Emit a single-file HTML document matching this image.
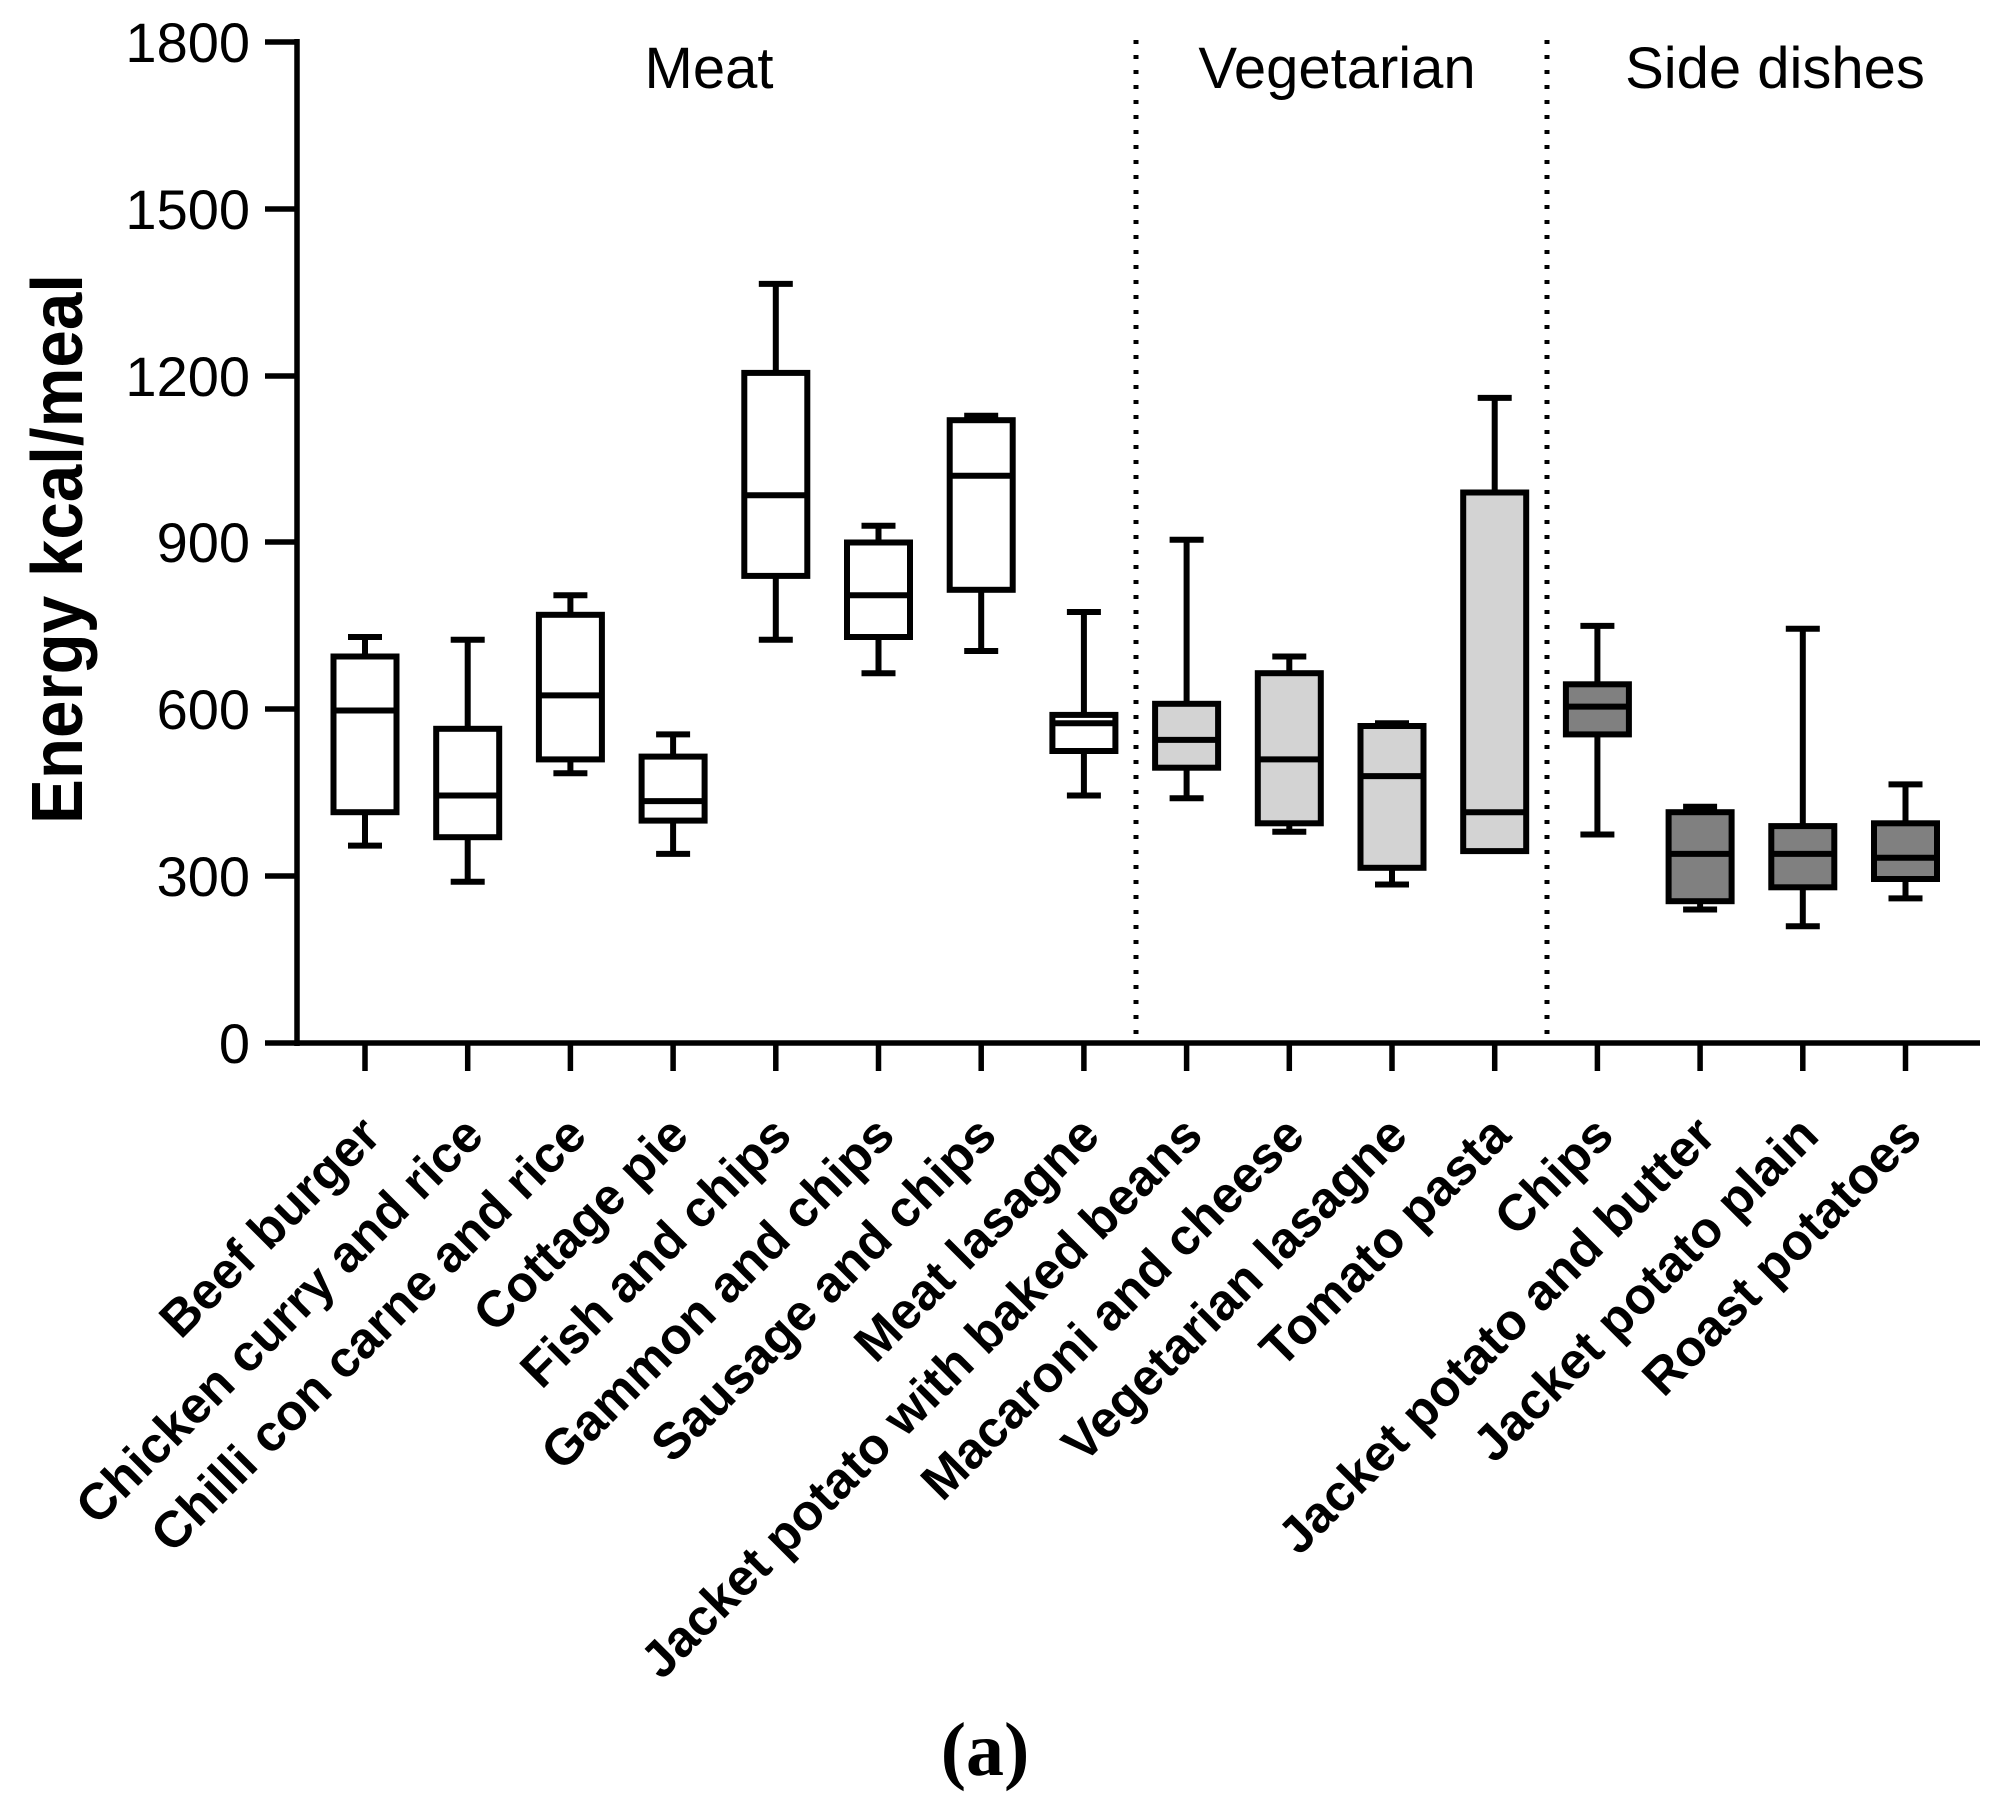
<!DOCTYPE html>
<html><head><meta charset="utf-8"><style>
html,body{margin:0;padding:0;background:#fff;}
svg{display:block;}
text{font-family:"Liberation Sans",Arial,sans-serif;fill:#000;}
</style></head><body>
<svg width="2004" height="1815" viewBox="0 0 2004 1815" xmlns="http://www.w3.org/2000/svg">
<g stroke="#000" stroke-width="6" fill="none">
<line x1="365" y1="637" x2="365" y2="845.6"/><line x1="348" y1="637" x2="382" y2="637"/><line x1="348" y1="845.6" x2="382" y2="845.6"/>
<rect x="333.5" y="656.5" width="63" height="155.7" fill="#fff"/><line x1="333.5" y1="710.5" x2="396.5" y2="710.5"/>
<line x1="467.7" y1="639.8" x2="467.7" y2="881.7"/><line x1="450.7" y1="639.8" x2="484.7" y2="639.8"/><line x1="450.7" y1="881.7" x2="484.7" y2="881.7"/>
<rect x="436.2" y="728.8" width="63" height="108.4" fill="#fff"/><line x1="436.2" y1="795.5" x2="499.2" y2="795.5"/>
<line x1="570.4" y1="595.3" x2="570.4" y2="773.3"/><line x1="553.4" y1="595.3" x2="587.4" y2="595.3"/><line x1="553.4" y1="773.3" x2="587.4" y2="773.3"/>
<rect x="538.9" y="614.8" width="63" height="144.6" fill="#fff"/><line x1="538.9" y1="695.4" x2="601.9" y2="695.4"/>
<line x1="673.1" y1="734.4" x2="673.1" y2="853.9"/><line x1="656.1" y1="734.4" x2="690.1" y2="734.4"/><line x1="656.1" y1="853.9" x2="690.1" y2="853.9"/>
<rect x="641.6" y="756.6" width="63" height="64" fill="#fff"/><line x1="641.6" y1="801.1" x2="704.6" y2="801.1"/>
<line x1="775.8" y1="283.9" x2="775.8" y2="639.8"/><line x1="758.8" y1="283.9" x2="792.8" y2="283.9"/><line x1="758.8" y1="639.8" x2="792.8" y2="639.8"/>
<rect x="744.3" y="372.9" width="63" height="203" fill="#fff"/><line x1="744.3" y1="495.2" x2="807.3" y2="495.2"/>
<line x1="878.5" y1="525.8" x2="878.5" y2="673.2"/><line x1="861.5" y1="525.8" x2="895.5" y2="525.8"/><line x1="861.5" y1="673.2" x2="895.5" y2="673.2"/>
<rect x="847" y="542.5" width="63" height="94.5" fill="#fff"/><line x1="847" y1="595.3" x2="910" y2="595.3"/>
<line x1="981.2" y1="415.7" x2="981.2" y2="651"/><line x1="964.2" y1="415.7" x2="998.2" y2="415.7"/><line x1="964.2" y1="651" x2="998.2" y2="651"/>
<rect x="949.7" y="420.2" width="63" height="169.6" fill="#fff"/><line x1="949.7" y1="475.8" x2="1012.7" y2="475.8"/>
<line x1="1083.9" y1="612" x2="1083.9" y2="795.5"/><line x1="1066.9" y1="612" x2="1100.9" y2="612"/><line x1="1066.9" y1="795.5" x2="1100.9" y2="795.5"/>
<rect x="1052.4" y="714.9" width="63" height="36.1" fill="#fff"/><line x1="1052.4" y1="723.2" x2="1115.4" y2="723.2"/>
<line x1="1186.6" y1="539.7" x2="1186.6" y2="798.3"/><line x1="1169.6" y1="539.7" x2="1203.6" y2="539.7"/><line x1="1169.6" y1="798.3" x2="1203.6" y2="798.3"/>
<rect x="1155.1" y="703.8" width="63" height="63.9" fill="#d3d3d3"/><line x1="1155.1" y1="739.9" x2="1218.1" y2="739.9"/>
<line x1="1289.3" y1="656.5" x2="1289.3" y2="831.7"/><line x1="1272.3" y1="656.5" x2="1306.3" y2="656.5"/><line x1="1272.3" y1="831.7" x2="1306.3" y2="831.7"/>
<rect x="1257.8" y="673.2" width="63" height="150.1" fill="#d3d3d3"/><line x1="1257.8" y1="759.4" x2="1320.8" y2="759.4"/>
<line x1="1392" y1="723.2" x2="1392" y2="884.5"/><line x1="1375" y1="723.2" x2="1409" y2="723.2"/><line x1="1375" y1="884.5" x2="1409" y2="884.5"/>
<rect x="1360.5" y="726" width="63" height="141.8" fill="#d3d3d3"/><line x1="1360.5" y1="776.1" x2="1423.5" y2="776.1"/>
<line x1="1494.7" y1="397.9" x2="1494.7" y2="851.1"/><line x1="1477.7" y1="397.9" x2="1511.7" y2="397.9"/>
<rect x="1463.2" y="492.5" width="63" height="358.6" fill="#d3d3d3"/><line x1="1463.2" y1="812.2" x2="1526.2" y2="812.2"/>
<line x1="1597.4" y1="625.9" x2="1597.4" y2="834.5"/><line x1="1580.4" y1="625.9" x2="1614.4" y2="625.9"/><line x1="1580.4" y1="834.5" x2="1614.4" y2="834.5"/>
<rect x="1565.9" y="684.3" width="63" height="50.1" fill="#808080"/><line x1="1565.9" y1="706.6" x2="1628.9" y2="706.6"/>
<line x1="1700.1" y1="806.7" x2="1700.1" y2="909.5"/><line x1="1683.1" y1="806.7" x2="1717.1" y2="806.7"/><line x1="1683.1" y1="909.5" x2="1717.1" y2="909.5"/>
<rect x="1668.6" y="812.2" width="63" height="89" fill="#808080"/><line x1="1668.6" y1="853.9" x2="1731.6" y2="853.9"/>
<line x1="1802.8" y1="628.7" x2="1802.8" y2="926.2"/><line x1="1785.8" y1="628.7" x2="1819.8" y2="628.7"/><line x1="1785.8" y1="926.2" x2="1819.8" y2="926.2"/>
<rect x="1771.3" y="826.1" width="63" height="61.2" fill="#808080"/><line x1="1771.3" y1="853.9" x2="1834.3" y2="853.9"/>
<line x1="1905.5" y1="784.4" x2="1905.5" y2="898.4"/><line x1="1888.5" y1="784.4" x2="1922.5" y2="784.4"/><line x1="1888.5" y1="898.4" x2="1922.5" y2="898.4"/>
<rect x="1874" y="823.3" width="63" height="55.7" fill="#808080"/><line x1="1874" y1="857.7" x2="1937" y2="857.7"/>
</g>
<line x1="1136" y1="40" x2="1136" y2="1040" stroke="#000" stroke-width="5" stroke-dasharray="4,11"/>
<line x1="1547" y1="40" x2="1547" y2="1040" stroke="#000" stroke-width="5" stroke-dasharray="4,11"/>
<line x1="297" y1="39" x2="297" y2="1046" stroke="#000" stroke-width="5.5"/>
<line x1="265" y1="1043" x2="1980" y2="1043" stroke="#000" stroke-width="5.5"/>
<g stroke="#000" stroke-width="5.5">
<line x1="265" y1="42" x2="297" y2="42"/>
<line x1="265" y1="209" x2="297" y2="209"/>
<line x1="265" y1="376" x2="297" y2="376"/>
<line x1="265" y1="542" x2="297" y2="542"/>
<line x1="265" y1="709" x2="297" y2="709"/>
<line x1="265" y1="876" x2="297" y2="876"/>
<line x1="365" y1="1043" x2="365" y2="1071"/>
<line x1="467.7" y1="1043" x2="467.7" y2="1071"/>
<line x1="570.4" y1="1043" x2="570.4" y2="1071"/>
<line x1="673.1" y1="1043" x2="673.1" y2="1071"/>
<line x1="775.8" y1="1043" x2="775.8" y2="1071"/>
<line x1="878.5" y1="1043" x2="878.5" y2="1071"/>
<line x1="981.2" y1="1043" x2="981.2" y2="1071"/>
<line x1="1083.9" y1="1043" x2="1083.9" y2="1071"/>
<line x1="1186.6" y1="1043" x2="1186.6" y2="1071"/>
<line x1="1289.3" y1="1043" x2="1289.3" y2="1071"/>
<line x1="1392" y1="1043" x2="1392" y2="1071"/>
<line x1="1494.7" y1="1043" x2="1494.7" y2="1071"/>
<line x1="1597.4" y1="1043" x2="1597.4" y2="1071"/>
<line x1="1700.1" y1="1043" x2="1700.1" y2="1071"/>
<line x1="1802.8" y1="1043" x2="1802.8" y2="1071"/>
<line x1="1905.5" y1="1043" x2="1905.5" y2="1071"/>
</g>
<g font-size="56" text-anchor="end">
<text x="250" y="62">1800</text>
<text x="250" y="229">1500</text>
<text x="250" y="396">1200</text>
<text x="250" y="562">900</text>
<text x="250" y="729">600</text>
<text x="250" y="896">300</text>
<text x="250" y="1063">0</text>
</g>
<text transform="translate(82,549) rotate(-90)" font-size="72" font-weight="bold" text-anchor="middle" textLength="550" lengthAdjust="spacingAndGlyphs">Energy kcal/meal</text>
<g font-size="58" text-anchor="middle">
<text x="709" y="88">Meat</text>
<text x="1337" y="88">Vegetarian</text>
<text x="1775" y="88">Side dishes</text>
</g>
<g font-size="51" font-weight="bold" text-anchor="end">
<text transform="translate(383,1138) rotate(-45)">Beef burger</text>
<text transform="translate(486,1138) rotate(-45)">Chicken curry and rice</text>
<text transform="translate(589,1138) rotate(-45)">Chilli con carne and rice</text>
<text transform="translate(691,1138) rotate(-45)">Cottage pie</text>
<text transform="translate(794,1138) rotate(-45)">Fish and chips</text>
<text transform="translate(897,1138) rotate(-45)">Gammon and chips</text>
<text transform="translate(999,1138) rotate(-45)">Sausage and chips</text>
<text transform="translate(1102,1138) rotate(-45)">Meat lasagne</text>
<text transform="translate(1205,1138) rotate(-45)">Jacket potato with baked beans</text>
<text transform="translate(1307,1138) rotate(-45)">Macaroni and cheese</text>
<text transform="translate(1410,1138) rotate(-45)">Vegetarian lasagne</text>
<text transform="translate(1513,1138) rotate(-45)">Tomato pasta</text>
<text transform="translate(1616,1138) rotate(-45)">Chips</text>
<text transform="translate(1718,1138) rotate(-45)">Jacket potato and butter</text>
<text transform="translate(1821,1138) rotate(-45)">Jacket potato plain</text>
<text transform="translate(1924,1138) rotate(-45)">Roast potatoes</text>
</g>
<text x="985" y="1775" font-size="76" font-weight="bold" text-anchor="middle" style="font-family:'Liberation Serif',serif">(a)</text>
</svg>
</body></html>
